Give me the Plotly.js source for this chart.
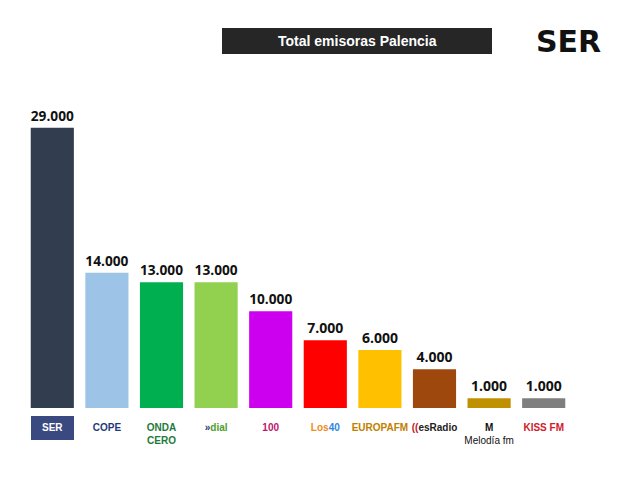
<!DOCTYPE html>
<html>
<head>
<meta charset="utf-8">
<script src="https://cdn.plot.ly/plotly-3.0.1.min.js"></script>
<style>html,body{margin:0;padding:0;background:#fff;}#chart{width:630px;height:489px;}</style>
</head>
<body>
<div id="chart"></div>
<script>
const stations = ["SER", "COPE", "Onda Cero", "Dial", "Cadena 100", "Los40", "Europa FM", "esRadio", "Melodía FM", "Kiss FM"];
const listeners = [29000, 14000, 13000, 13000, 10000, 7000, 6000, 4000, 1000, 1000];
const barColors = ["#323E50", "#9DC3E6", "#00B050", "#92D050", "#CC00EE", "#FF0000", "#FFC000", "#9E480E", "#BF9000", "#7F7F7F"];
const tickLabels = [
  "<span style='color:#ffffff'><b>SER</b></span>",
  "<span style='color:#1F3A7A'><b>COPE</b></span>",
  "<span style='color:#1E7A3A'><b>ONDA<br>CERO</b></span>",
  "<span style='color:#1F3A7A'><b>»</b></span><span style='color:#4CA02C'><b>dial</b></span>",
  "<span style='color:#C0146A'><b>100</b></span>",
  "<span style='color:#F08C1E'><b>Los</b></span><span style='color:#2E86DE'><b>40</b></span>",
  "<span style='color:#C08000'><b>EUROPAFM</b></span>",
  "<span style='color:#C0202A'><b>((</b></span><span style='color:#222'><b>esRadio</b></span>",
  "<span style='color:#111'><b>M</b><br>Melodía fm</span>",
  "<span style='color:#D0202A'><b>KISS FM</b></span>"
];
const titleText = "Total emisoras Palencia";

Plotly.newPlot("chart", [{
  type: "bar",
  x: stations,
  y: listeners,
  marker: {color: barColors},
  texttemplate: "<b>%{y:,.0f}</b>",
  textposition: "outside",
  cliponaxis: false,
  textfont: {family: "Open Sans, Liberation Sans, sans-serif", size: 14, color: "#111"},
  hoverinfo: "none"
}], {
  width: 630, height: 489,
  margin: {l: 25, r: 59, t: 118, b: 81},
  separators: ",.",
  paper_bgcolor: "#ffffff",
  plot_bgcolor: "#ffffff",
  bargap: 0.21,
  showlegend: false,
  font: {family: "Liberation Sans, Arial, sans-serif"},
  xaxis: {
    tickmode: "array", tickvals: stations, ticktext: tickLabels,
    tickangle: 0, ticklabelstandoff: 12,
    showline: false, showgrid: false, zeroline: false, ticks: "",
    tickfont: {size: 10}, fixedrange: true
  },
  yaxis: {range: [0, 30000], visible: false, fixedrange: true},
  shapes: [
    {type: "rect", xref: "paper", yref: "paper", x0: (222-25)/546, x1: (492-25)/546, y0: (408-54)/290, y1: (408-28)/290, fillcolor: "#262626", line: {color: "#262626", width: 0}},
    {type: "rect", xref: "paper", yref: "paper", x0: (31-25)/546, x1: (74-25)/546, y0: (408-440)/290, y1: (408-416)/290, fillcolor: "#3A4A80", line: {width: 0}, layer: "below"}
  ],
  annotations: [
    {xref: "paper", yref: "paper", x: (357-25)/546, y: (408-41)/290, text: "<b>" + titleText + "</b>", showarrow: false, font: {family: "Liberation Sans, Arial, sans-serif", size: 14, color: "#ffffff"}, xanchor: "center", yanchor: "middle"},
    {xref: "paper", yref: "paper", x: (568-25)/546, y: (408-41)/290, text: "<b>SER</b>", showarrow: false, font: {family: "DejaVu Sans, sans-serif", size: 30, color: "#111111"}, xanchor: "center", yanchor: "middle"}
  ]
}, {staticPlot: true});
</script>
</body>
</html>
